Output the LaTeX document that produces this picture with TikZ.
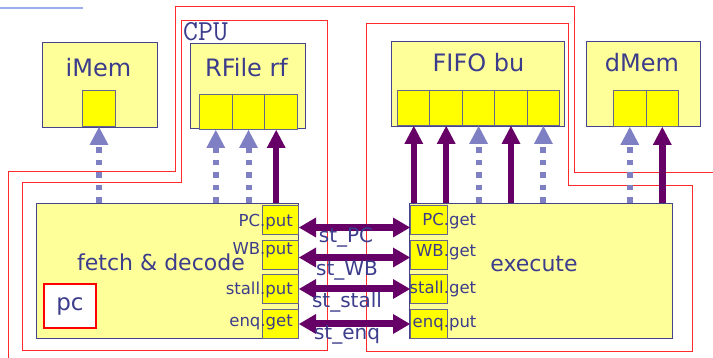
\documentclass[tikz,border=0pt]{standalone}
\usepackage{fontspec}
\setmainfont{DejaVu Sans}
\usepackage{tikz}
\usetikzlibrary{arrows.meta}
\definecolor{boxfill}{HTML}{FFFF99}
\definecolor{cellfill}{HTML}{FFFF00}
\definecolor{boxline}{HTML}{44448C}
\definecolor{cellline}{HTML}{66668A}
\definecolor{txt}{HTML}{3C3C8C}
\definecolor{dpurple}{HTML}{660066}
\definecolor{lav}{HTML}{7F7FC4}
\definecolor{cpured}{HTML}{FF2A2A}
\definecolor{skyline}{HTML}{99B0F0}
\tikzset{
  box/.style={draw=boxline, line width=1pt, fill=boxfill, inner sep=0pt, anchor=north west},
  cell/.style={draw=cellline, line width=1pt, fill=cellfill, inner sep=0pt, anchor=north west, minimum width=32.6pt, minimum height=35pt},
  port/.style={cell, minimum width=36pt, minimum height=29pt},
  title/.style={text=txt, inner sep=0pt, anchor=base, font=\fontsize{24}{28}\selectfont},
  plabel/.style={text=txt, inner sep=0pt, anchor=base east, font=\fontsize{16.5}{19}\selectfont},
  stlabel/.style={text=txt, inner sep=0pt, anchor=base, font=\fontsize{20}{24}\selectfont},
  region/.style={draw=cpured, line width=1pt},
  solidup/.style={draw=dpurple, line width=6.5pt, -{Triangle[width=19pt,length=18pt,line width=0pt]}},
  dashup/.style={draw=lav, line width=6pt, dash pattern=on 5.5pt off 7pt, -{Triangle[width=19pt,length=18pt,line width=0pt]}},
  bothway/.style={draw=dpurple, line width=7pt, {Triangle[width=20pt,length=17pt,line width=0pt]}-{Triangle[width=20pt,length=17pt,line width=0pt]}}
}

\begin{document}
\begin{tikzpicture}[x=1pt,y=-1pt]
\useasboundingbox (0,0) rectangle (713,358);
\draw[skyline, line width=1.5pt] (0,8) -- (83,8);
\draw[region] (713,173) -- (574,173) -- (574,7) -- (175,7) -- (175,172) -- (8,172) -- (8,358);
\draw[region] (181,21) -- (327,21) -- (327,351) -- (22,351) -- (22,183) -- (181,183) -- cycle;
\draw[region] (366,24) -- (568,24) -- (568,186) -- (692,186) -- (692,352) -- (366,352) -- cycle;
\node[text=txt, inner sep=0pt, anchor=base west, font=\ttfamily\fontsize{29}{32}\selectfont] (cpu) at (183,41) {CPU};
\node[box, minimum width=115pt, minimum height=85pt] (imem) at (42,42) {};
\node[box, minimum width=115pt, minimum height=85pt] (rf) at (190,43) {};
\node[box, minimum width=173pt, minimum height=85pt] (bu) at (391,41) {};
\node[box, minimum width=114pt, minimum height=85pt] (dmem) at (586,41) {};
\node[title] (imemt) at (98.5,77) {iMem};
\node[title] (rft) at (246.5,77) {RFile rf};
\node[title] (but) at (478.5,72) {FIFO bu};
\node[title] (dmemt) at (642,72) {dMem};
\node[cell, minimum width=33pt, minimum height=36pt] (imc) at (82,90) {};
\foreach \i in {1,2,3} \node[cell] (rf\i) at ({199+32.7*(\i-1)},94) {};
\foreach \i in {1,...,5} \node[cell] (bu\i) at ({397+32.4*(\i-1)},90) {};
\foreach \i in {1,2} \node[cell, minimum height=36pt] (dm\i) at ({613+32.5*(\i-1)},90) {};
\node[box, minimum width=262pt, minimum height=135pt] (fetch) at (36,203) {};
\node[box, minimum width=263pt, minimum height=135pt] (exec) at (409,203) {};
\node[title, font=\fontsize{22}{26}\selectfont] (fetcht) at (161,271) {fetch \& decode};
\node[title, font=\fontsize{22}{26}\selectfont] (exect) at (534,271.5) {execute};
\node[draw=red, line width=2pt, fill=white, minimum width=52pt, minimum height=44pt, inner sep=0pt, text=txt, font=\fontsize{23}{27}\selectfont] (pc) at (70,306) {pc};
\node[port] (fpc) at (262,205) {};
\node[port] (fwb) at (262,240.5) {};
\node[port] (fstall) at (262,274) {};
\node[port] (fenq) at (262,309) {};
\node[port, minimum width=37pt] (epc) at (410,205) {};
\node[port, minimum width=37pt] (ewb) at (410,240.5) {};
\node[port, minimum width=37pt] (estall) at (410,274) {};
\node[port, minimum width=37pt] (eenq) at (410,309) {};
\node[plabel] (fpcl) at (293,227) {PC.put};
\node[plabel] (fwbl) at (293,255) {WB.put};
\node[plabel] (fstalll) at (293,295) {stall.put};
\node[plabel] (fenql) at (293,327) {enq.get};
\node[plabel] (epcl) at (444,226) {PC\rlap{.get}};
\node[plabel] (ewbl) at (444,257) {WB\rlap{.get}};
\node[plabel] (estalll) at (444,294) {stall\rlap{.get}};
\node[plabel] (eenql) at (444,328) {enq\rlap{.put}};
\draw[dashup] (fetch.north -| imc.south) -- (imc.south);
\draw[dashup] (fetch.north -| rf1.south) -- (rf1.south);
\draw[dashup] (fetch.north -| rf2.south) -- (rf2.south);
\coordinate (rfin) at ([xshift=-5pt]rf3.south);
\draw[solidup] (fetch.north -| rfin) -- (rfin);
\foreach \i in {1,2,4} \draw[solidup] (exec.north -| bu\i.south) -- (bu\i.south);
\foreach \i in {3,5} \draw[dashup] (exec.north -| bu\i.south) -- (bu\i.south);
\draw[dashup] (exec.north -| dm1.south) -- (dm1.south);
\draw[solidup] (exec.north -| dm2.south) -- (dm2.south);
\draw[bothway] ([yshift=-7.5pt]fpc.east) -- ([yshift=-7.5pt]epc.west);
\draw[bothway] ([yshift=-2pt]fwb.east) -- ([yshift=-2pt]ewb.west);
\draw[bothway] (fstall.east) -- (estall.west);
\draw[bothway] (fenq.east) -- (eenq.west);
\node[stlabel] (stpc) at (346,243) {st\_PC};
\node[stlabel] (stwb) at (347,276) {st\_WB};
\node[stlabel] (ststall) at (347,308) {st\_stall};
\node[stlabel] (stenq) at (347,340) {st\_enq};
\end{tikzpicture}
\end{document}
